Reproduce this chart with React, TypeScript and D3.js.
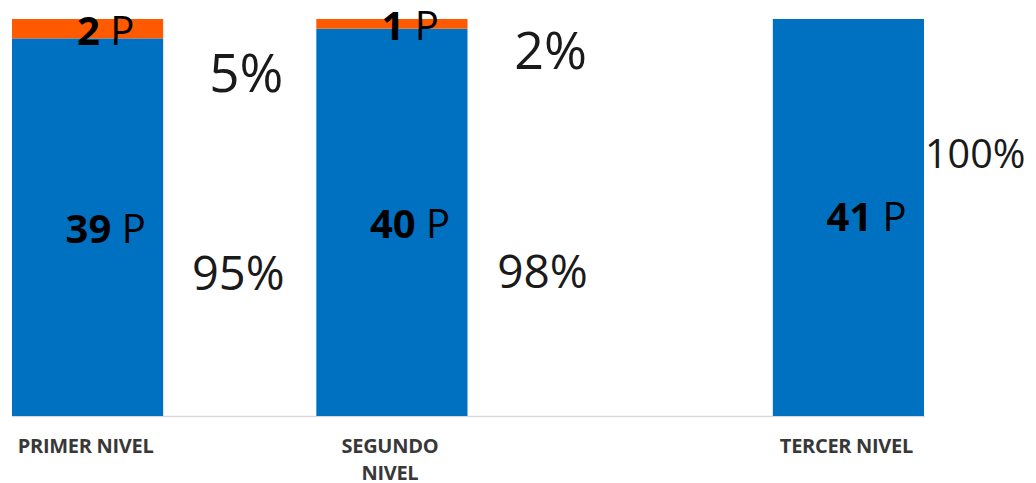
import * as d3 from 'd3';

// categories and the empty slots between them (the chart leaves gaps for the % labels)
const slots = ['PRIMER NIVEL', 'gap-1', 'SEGUNDO NIVEL', 'gap-2', 'gap-3', 'TERCER NIVEL'];
const categories = ['PRIMER NIVEL', 'SEGUNDO NIVEL', 'TERCER NIVEL'];
const tickLines = [['PRIMER NIVEL'], ['SEGUNDO', 'NIVEL'], ['TERCER NIVEL']];

// series values (number of people)
const blueValues = [39, 40, 41];
const orangeValues = [2, 1, 0];

// percentage labels
const bluePct = ['95%', '98%', '100%'];
const orangePct = ['5%', '2%', ''];

const WIDTH = 1036;
const HEIGHT = 483;
const BLUE = '#0070C0';
const ORANGE = '#FF5A00';
const FONT = "'Open Sans', 'Noto Sans', sans-serif";

const App = () => {
  const x = d3.scaleBand<string>().domain(slots).range([12, 925]).padding(0);
  const total = d3.max(blueValues.map((v, i) => v + orangeValues[i])) || 0;
  const y = d3.scaleLinear().domain([0, total]).range([416, 19]);
  const bw = x.bandwidth() - 1;

  // where the free-floating % labels sit, in data units (and which slot they use)
  const pctLayout = [
    { slot: 'gap-1', blueAt: 13, orangeAt: 33.5, blueSize: 47, orangeSize: 53, dx: 0, odx: 6 },
    { slot: 'gap-2', blueAt: 13.2, orangeAt: 35.8, blueSize: 46, orangeSize: 52, dx: 0, odx: 6 },
    { slot: null, blueAt: 25.6, orangeAt: 0, blueSize: 39.5, orangeSize: 0, dx: 3, odx: 0 },
  ];

  return (
    <svg
      width={WIDTH}
      height={HEIGHT}
      style={{ position: 'absolute', left: 0, top: 0, background: '#fff' }}
      fontFamily={FONT}
    >
      {/* axis line */}
      <line x1={x.range()[0]} x2={x.range()[1]} y1={y(0) + 0.5} y2={y(0) + 0.5} stroke="#d9d9d9" strokeWidth={1.5} />

      {categories.map((c, i) => {
        const x0 = x(c) || 0;
        const cx = x0 + bw / 2 + bw * 0.12;
        const b = blueValues[i];
        const o = orangeValues[i];
        return (
          <g key={c}>
            <rect x={x0} y={y(b)} width={bw} height={y(0) - y(b)} fill={BLUE} />
            {o > 0 && <rect x={x0} y={y(b + o)} width={bw} height={y(b) - y(b + o)} fill={ORANGE} />}
            <text x={cx} y={(y(0) + y(b)) / 2 + (o > 0 ? 16 : 13)} textAnchor="middle" fontSize={40} fill="#000">
              <tspan fontWeight="bold">{b}</tspan>
              <tspan> P</tspan>
            </text>
            {o > 0 && (
              <text x={cx} y={(y(b) + y(b + o)) / 2 + 16} textAnchor="middle" fontSize={40} fill="#000">
                <tspan fontWeight="bold">{o}</tspan>
                <tspan> P</tspan>
              </text>
            )}
            <text textAnchor="middle" fontSize={20} fontWeight="bold" fill="#383838" letterSpacing={-0.3}>
              {tickLines[i].map((line, k) => (
                <tspan key={k} x={x0 + bw / 2 - 2} y={y(0) + 37 + k * 27}>
                  {line}
                </tspan>
              ))}
            </text>
          </g>
        );
      })}

      {pctLayout.map((p, i) => {
        const anchorX = p.slot ? (x(p.slot) || 0) + x.bandwidth() / 2 : (x(categories[i]) || 0) + bw;
        const anchor = p.slot ? 'middle' : 'start';
        return (
          <g key={i} fill="#1a1a1a">
            <text x={anchorX - 2 + p.dx} y={y(p.blueAt)} textAnchor={anchor} fontSize={p.blueSize}>
              {bluePct[i]}
            </text>
            {orangePct[i] && (
              <text x={anchorX + p.odx} y={y(p.orangeAt)} textAnchor={anchor} fontSize={p.orangeSize}>
                {orangePct[i]}
              </text>
            )}
          </g>
        );
      })}
    </svg>
  );
};

export default App;
